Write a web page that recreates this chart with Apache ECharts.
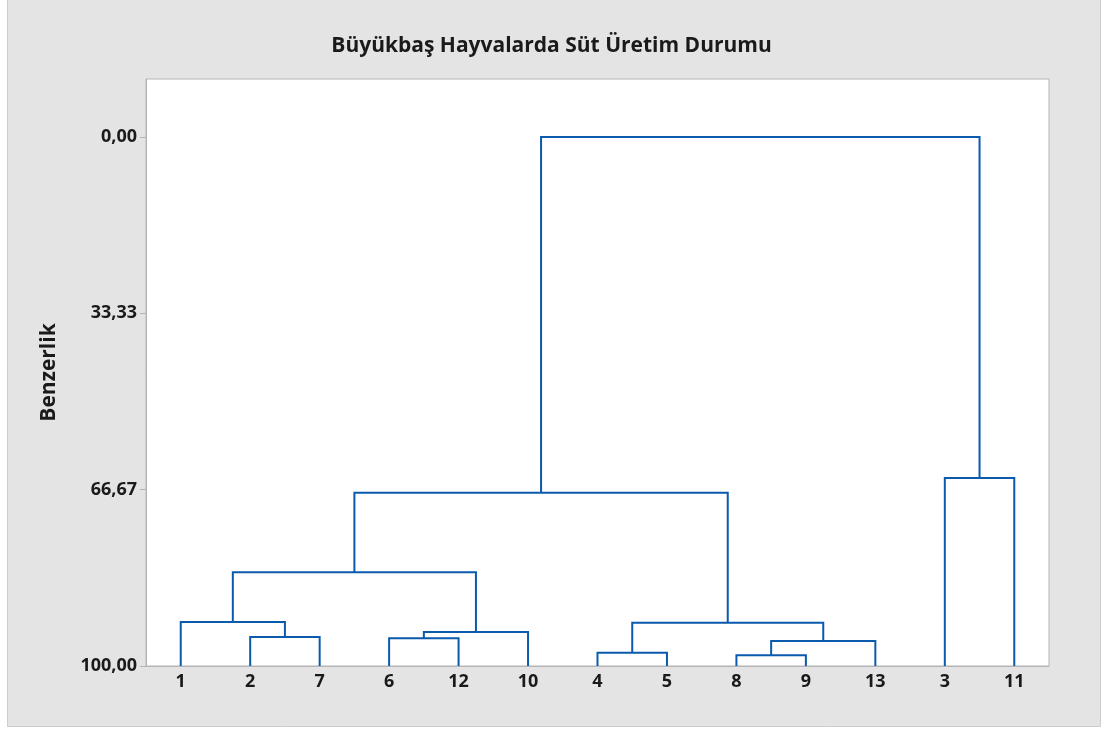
<!DOCTYPE html>
<html>
<head>
<meta charset="utf-8">
<script src="https://cdn.jsdelivr.net/npm/echarts@6/dist/echarts.min.js"></script>
<style>
  html, body { margin: 0; padding: 0; background: #ffffff; }
  #main { width: 1103px; height: 729px; }
</style>
</head>
<body>
<div id="main"></div>
<script>
// yaprak sırası (x ekseni)
var leaves = ['1', '2', '7', '6', '12', '10', '4', '5', '8', '9', '13', '3', '11'];
// birleşmeler: cN = N. birleşme
var mergeA = ['8', '4', 'c0', '6', '2', 'c3', 'c1', '1', 'c7', 'c8', '3', 'c9'];
var mergeB = ['9', '5', '13', '12', '7', '10', 'c2', 'c4', 'c5', 'c6', '11', 'c10'];
var mergeSim = [97.98, 97.48, 95.27, 94.77, 94.52, 93.57, 91.81, 91.68, 82.30, 67.24, 64.46, 0.00];
var yTicks = [0, 100 / 3, 200 / 3, 100];

var chart = echarts.init(document.getElementById('main'));

function fmt(v) {
  return v.toFixed(2).replace('.', ',');
}

// düğümün piksel konumu (x, y)
function nodePos(api, key) {
  if (key.charAt(0) === 'c') {
    var i = parseInt(key.slice(1), 10);
    var a = nodePos(api, mergeA[i]);
    var b = nodePos(api, mergeB[i]);
    var y = api.coord([0, mergeSim[i]])[1];
    return [(a[0] + b[0]) / 2, y];
  }
  return api.coord([leaves.indexOf(key), 100]);
}

var option = {
  backgroundColor: '#ffffff',
  animation: false,
  graphic: [{
    type: 'rect',
    left: 7, top: -2,
    shape: { width: 1093, height: 728 },
    style: { fill: '#e4e4e4', stroke: '#cccccc', lineWidth: 1 },
    z: -10
  }],
  title: {
    text: 'Büyükbaş Hayvalarda Süt Üretim Durumu',
    left: 'center',
    top: 31,
    textStyle: { fontFamily: 'Open Sans', fontSize: 21, fontWeight: 'bold', color: '#1a1a1a' }
  },
  grid: {
    left: 146, right: 54, top: 79, bottom: 63,
    show: true,
    backgroundColor: '#ffffff',
    borderColor: '#b4b4b4',
    borderWidth: 1
  },
  xAxis: {
    type: 'category',
    data: leaves,
    boundaryGap: true,
    axisLine: { onZero: false, lineStyle: { color: '#b4b4b4' } },
    axisTick: { alignWithLabel: true, length: 6, lineStyle: { color: '#b4b4b4' } },
    axisLabel: { fontFamily: 'Open Sans', fontSize: 18, fontWeight: 'bold', color: '#1a1a1a', margin: 7 },
    splitLine: { show: false }
  },
  yAxis: {
    type: 'value',
    inverse: true,
    min: -10.96,
    max: 100,
    name: 'Benzerlik',
    nameLocation: 'middle',
    nameGap: 86,
    nameTextStyle: { fontFamily: 'Open Sans', fontSize: 21, fontWeight: 'bold', color: '#1a1a1a' },
    axisLine: { show: true, lineStyle: { color: '#b4b4b4' } },
    axisTick: { show: true, length: 6, customValues: yTicks, lineStyle: { color: '#b4b4b4' } },
    axisLabel: {
      customValues: yTicks,
      fontFamily: 'Open Sans', fontSize: 18, fontWeight: 'bold', color: '#1a1a1a', margin: 9,
      formatter: function (v) { return fmt(v); }
    },
    splitLine: { show: false }
  },
  series: [{
    type: 'custom',
    clip: false,
    data: mergeSim.map(function (s, i) { return [i, s]; }),
    renderItem: function (params, api) {
      var i = params.dataIndex;
      var a = nodePos(api, mergeA[i]);
      var b = nodePos(api, mergeB[i]);
      var y = api.coord([0, mergeSim[i]])[1];
      return {
        type: 'polyline',
        shape: { points: [[a[0], a[1]], [a[0], y], [b[0], y], [b[0], b[1]]] },
        style: { stroke: '#0a5aad', lineWidth: 2, fill: null }
      };
    }
  }]
};

chart.setOption(option);
</script>
</body>
</html>
